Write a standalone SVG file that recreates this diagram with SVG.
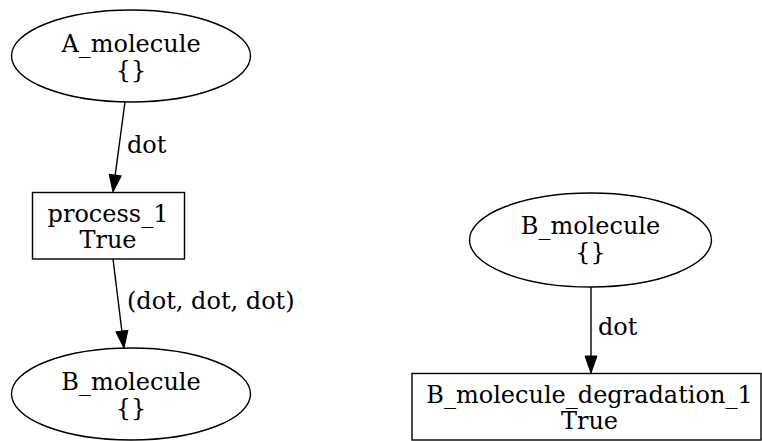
<svg xmlns="http://www.w3.org/2000/svg" width="762" height="441" viewBox="0 0 762 441">
<defs>
<style>
.n{fill:none;stroke:#000;stroke-width:1.4}
.e{fill:none;stroke:#000;stroke-width:1.4}
text{font-family:"DejaVu Serif","Liberation Serif",serif;font-size:24px;fill:#000}
.c{text-anchor:middle}
</style>
<marker id="ah" markerUnits="userSpaceOnUse" markerWidth="20" markerHeight="14" viewBox="0 -7 18 14" refX="0" refY="0" orient="auto">
<path d="M0,-6 L17,0 L0,6 z" fill="#000" stroke="#000" stroke-width="1"/>
</marker>
</defs>
<rect width="762" height="441" fill="#fff"/>
<g id="edges">
<path class="e" d="M125,102 L115.2,175.2" marker-end="url(#ah)"/>
<text x="127" y="153">dot</text>
<path class="e" d="M113,259 L121.9,331.1" marker-end="url(#ah)"/>
<text x="127" y="309">(dot, dot, dot)</text>
<path class="e" d="M591,287 L591,356" marker-end="url(#ah)"/>
<text x="598" y="335">dot</text>
</g>
<g id="A_molecule">
<ellipse class="n" cx="131" cy="56" rx="119.5" ry="46"/>
<text class="c" x="131" y="51.5">A_molecule</text>
<text class="c" x="131" y="77.5">{}</text>
</g>
<g id="process_1">
<rect class="n" x="32.5" y="192.5" width="152" height="66.5"/>
<text class="c" x="108" y="221.5">process_1</text>
<text class="c" x="108" y="247.5">True</text>
</g>
<g id="B_molecule_left">
<ellipse class="n" cx="131" cy="394" rx="119.5" ry="46"/>
<text class="c" x="131" y="389.5">B_molecule</text>
<text class="c" x="131" y="415.5">{}</text>
</g>
<g id="B_molecule_right">
<ellipse class="n" cx="590.5" cy="240" rx="121" ry="47"/>
<text class="c" x="590.5" y="234">B_molecule</text>
<text class="c" x="590.5" y="260">{}</text>
</g>
<g id="B_molecule_degradation_1">
<rect class="n" x="412" y="373.5" width="349" height="66.5"/>
<text class="c" x="589.5" y="402.5">B_molecule_degradation_1</text>
<text class="c" x="589.5" y="428.5">True</text>
</g>
</svg>
